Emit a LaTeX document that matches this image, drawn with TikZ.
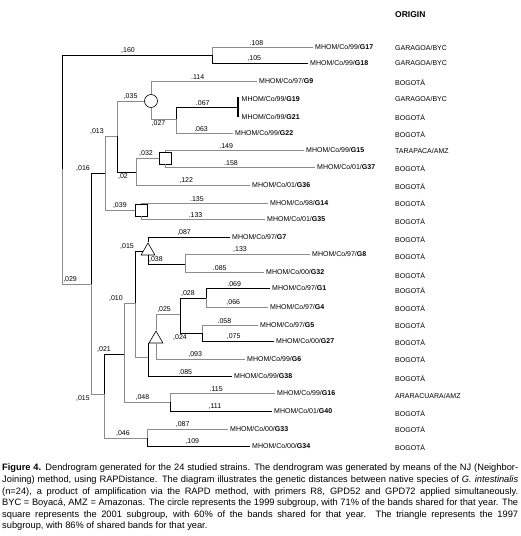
\documentclass[tikz,border=0pt]{standalone}
\usepackage{fontspec}
\setmainfont{Liberation Sans}
\usetikzlibrary{shapes.geometric}

\begin{document}
\begin{tikzpicture}[x=1pt,y=-1pt,
  blk/.style={draw=black,line width=0.7pt},
  gry/.style={draw=black!45,line width=0.9pt},
  leaf/.style={anchor=west,inner sep=2pt,font=\fontsize{7}{8}\selectfont},
  orig/.style={anchor=west,inner sep=0pt,font=\fontsize{7}{8}\selectfont},
  dist/.style={inner sep=0.8pt,font=\fontsize{7}{7.5}\selectfont},
  circnode/.style={circle,draw,line width=0.6pt,minimum size=13pt,inner sep=0pt},
  sqnode/.style={rectangle,draw,line width=0.6pt,minimum size=12pt,inner sep=0pt},
  trinode/.style={regular polygon,regular polygon sides=3,draw,line width=0.6pt,minimum size=16pt,inner sep=0pt}]
\useasboundingbox (0,0) rectangle (520,536);

% leaves
\node[leaf] (G17) at (313,47)  {MHOM/Co/99/\textbf{G17}};
\node[leaf] (G18) at (308,63)  {MHOM/Co/99/\textbf{G18}};
\node[leaf] (G9)  at (257,81)  {MHOM/Co/97/\textbf{G9}};
\node[leaf] (G19) at (239.5,99)  {MHOM/Co/99/\textbf{G19}};
\node[leaf] (G21) at (239.5,117) {MHOM/Co/99/\textbf{G21}};
\node[leaf] (G22) at (233,133) {MHOM/Co/99/\textbf{G22}};
\node[leaf] (G15) at (304,150) {MHOM/Co/99/\textbf{G15}};
\node[leaf] (G37) at (315,167) {MHOM/Co/01/\textbf{G37}};
\node[leaf] (G36) at (250,185) {MHOM/Co/01/\textbf{G36}};
\node[leaf] (G14) at (268,203) {MHOM/Co/98/\textbf{G14}};
\node[leaf] (G35) at (265,219) {MHOM/Co/01/\textbf{G35}};
\node[leaf] (G7)  at (230,237) {MHOM/Co/97/\textbf{G7}};
\node[leaf] (G8)  at (310,254) {MHOM/Co/97/\textbf{G8}};
\node[leaf] (G32) at (264,272) {MHOM/Co/00/\textbf{G32}};
\node[leaf] (G1)  at (270,288) {MHOM/Co/97/\textbf{G1}};
\node[leaf] (G4)  at (268,307) {MHOM/Co/97/\textbf{G4}};
\node[leaf] (G5)  at (258,325) {MHOM/Co/97/\textbf{G5}};
\node[leaf] (G27) at (274,341) {MHOM/Co/00/\textbf{G27}};
\node[leaf] (G6)  at (245,359) {MHOM/Co/99/\textbf{G6}};
\node[leaf] (G38) at (232,376) {MHOM/Co/99/\textbf{G38}};
\node[leaf] (G16) at (275,393) {MHOM/Co/99/\textbf{G16}};
\node[leaf] (G40) at (272,411) {MHOM/Co/01/\textbf{G40}};
\node[leaf] (G33) at (228,429) {MHOM/Co/00/\textbf{G33}};
\node[leaf] (G34) at (250,446) {MHOM/Co/00/\textbf{G34}};

% origin column
\node[orig,font=\fontsize{8.5}{9}\selectfont\bfseries] (origin) at (395,15) {ORIGIN};
\node[orig] (oG17) at (395,48)  {GARAGOA/BYC};
\node[orig] (oG18) at (395,63)  {GARAGOA/BYC};
\node[orig] (oG9)  at (395,82)  {BOGOTÁ};
\node[orig] (oG19) at (395,99)  {GARAGOA/BYC};
\node[orig] (oG21) at (395,117) {BOGOTÁ};
\node[orig] (oG22) at (395,134) {BOGOTÁ};
\node[orig] (oG15) at (395,151) {TARAPACA/AMZ};
\node[orig] (oG37) at (395,168) {BOGOTÁ};
\node[orig] (oG36) at (395,186) {BOGOTÁ};
\node[orig] (oG14) at (395,203) {BOGOTÁ};
\node[orig] (oG35) at (395,221) {BOGOTÁ};
\node[orig] (oG7)  at (395,239) {BOGOTÁ};
\node[orig] (oG8)  at (395,256) {BOGOTÁ};
\node[orig] (oG32) at (395,275) {BOGOTÁ};
\node[orig] (oG1)  at (395,290) {BOGOTÁ};
\node[orig] (oG4)  at (395,308) {BOGOTÁ};
\node[orig] (oG5)  at (395,325) {BOGOTÁ};
\node[orig] (oG27) at (395,342) {BOGOTÁ};
\node[orig] (oG6)  at (395,359) {BOGOTÁ};
\node[orig] (oG38) at (395,378) {BOGOTÁ};
\node[orig] (oG16) at (395,396) {ARARACUARA/AMZ};
\node[orig] (oG40) at (395,413) {BOGOTÁ};
\node[orig] (oG33) at (395,429) {BOGOTÁ};
\node[orig] (oG34) at (395,447) {BOGOTÁ};

% inner nodes
\coordinate (root) at (62,169);
\coordinate (nGG) at (212,55);
\coordinate (nA) at (91,284);
\coordinate (nB) at (105,173);
\coordinate (nC) at (117,136);
\node[circnode] (circ) at (151,101) {};
\coordinate (nD) at (176,119);
\node[fill,inner sep=0pt,minimum width=1.8pt,minimum height=20pt] (bar) at (238,107) {};
\coordinate (nE) at (136,172);
\node[sqnode] (sqA) at (165,158) {};
\node[sqnode] (sqB) at (141,210) {};
\coordinate (nF) at (104,394);
\coordinate (nG) at (124,354);
\coordinate (nJ) at (135,303);
\node[trinode] (triA) at (148,251) {};
\coordinate (nK) at (185,264);
\node[trinode] (triB) at (156,339) {};
\coordinate (nP) at (149,357);
\coordinate (nL) at (180,314);
\coordinate (nM) at (206,298);
\coordinate (nN) at (202,333);
\coordinate (nH) at (170,402);
\coordinate (nI) at (147,438);

% branches
\draw[blk] (root) |- node[dist,pos=0.72,above] {,160} (nGG);
\draw[gry] (root) |- node[dist,pos=0.5,above right] {,029} (nA);
\draw[gry] (nGG) |- node[dist,pos=0.72,above] {.108} (G17.west);
\draw[blk] (nGG) |- node[dist,pos=0.72,above] {,105} (G18.west);
\draw[blk] (nA) |- node[dist,pos=0.5,above left] {,016} (nB);
\draw[gry] (nA) |- node[dist,pos=0.5,below left] {,015} (nF);
\draw[gry] (nB) |- node[dist,pos=0.5,above left] {,013} (nC);
\draw[gry] (nB) |- node[dist,pos=0.75,above] {,039} (sqB);
\draw[gry] (nC) |- node[dist,pos=0.75,above] {,035} (circ);
\draw[blk] (nC) |- node[dist,pos=0.5,below right] {,02} (nE);
\draw[gry] (circ) |- node[dist,pos=0.72,above] {.114} (G9.west);
\draw[gry] (circ) |- node[dist,pos=0.65,below] {,027} (nD);
\draw[blk,line width=0.9pt] (nD) |- node[dist,pos=0.72,above] {.067} (bar);
\draw[gry] (nD) |- node[dist,pos=0.72,above] {.063} (G22.west);
\draw[gry] (nE) |- node[dist,pos=0.72,above] {,032} (sqA);
\draw[gry] (nE) |- node[dist,pos=0.72,above] {,122} (G36.west);
\draw[gry] (sqA) |- node[dist,pos=0.72,above] {.149} (G15.west);
\draw[gry] (sqA) |- node[dist,pos=0.72,above] {.158} (G37.west);
\draw[gry] (sqB) |- node[dist,pos=0.72,above] {.135} (G14.west);
\draw[gry] (sqB) |- node[dist,pos=0.72,above] {.133} (G35.west);
\draw[blk] (nF) |- node[dist,pos=0.5,above] {,021} (nG);
\draw[gry] (nF) |- node[dist,pos=0.72,above] {,046} (nI);
\draw[gry] (nG) |- node[dist,pos=0.5,above left] {,010} (nJ);
\draw[gry] (nG) |- node[dist,pos=0.7,above] {,048} (nH);
\draw[blk] (nJ) |- node[dist,pos=0.5,above left] {,015} (triA);
\draw[gry] (nJ) |- (nP);
\draw[blk] (triA) |- node[dist,pos=0.72,above] {,087} (G7.west);
\draw[blk] (triA) |- node[dist,pos=0.5,above right] {,038} (nK);
\draw[gry] (nK) |- node[dist,pos=0.72,above] {,133} (G8.west);
\draw[gry] (nK) |- node[dist,pos=0.72,above] {.085} (G32.west);
\draw[blk] (triB.corner 2) |- node[dist,pos=0.72,above] {.085} (G38.west);
\draw[gry] (triB) |- node[dist,pos=0.5,above right] {,025} (nL);
\draw[gry] (triB) |- node[dist,pos=0.72,above] {,093} (G6.west);
\draw[blk] (nL) |- node[dist,pos=0.5,above right] {,028} (nM);
\draw[blk] (nL) |- node[dist,pos=0.5,below] {,024} (nN);
\draw[blk] (nM) |- node[dist,pos=0.72,above] {.069} (G1.west);
\draw[gry] (nM) |- node[dist,pos=0.72,above] {,066} (G4.west);
\draw[gry] (nN) |- node[dist,pos=0.7,above] {.058} (G5.west);
\draw[blk] (nN) |- node[dist,pos=0.72,above] {,075} (G27.west);
\draw[gry] (nH) |- node[dist,pos=0.72,above] {.115} (G16.west);
\draw[blk] (nH) |- node[dist,pos=0.72,above] {,111} (G40.west);
\draw[gry] (nI) |- node[dist,pos=0.72,above] {,087} (G33.west);
\draw[blk] (nI) |- node[dist,pos=0.72,above] {,109} (G34.west);

% caption
\node[anchor=north west,inner sep=0pt,text width=516pt,align=justify,
      font=\fontsize{9.3}{11.6}\selectfont] (caption) at (2,464)
  {\textbf{Figure 4.} Dendrogram generated for the 24 studied strains. The dendrogram was generated by means of the NJ (Neighbor-\linebreak Joining) method, using RAPDistance. The diagram illustrates the genetic distances between native species of \textit{G. intestinalis}\linebreak (n=24), a product of amplification via the RAPD method, with primers R8, GPD52 and GPD72 applied simultaneously.\linebreak BYC = Boyacá, AMZ = Amazonas. The circle represents the 1999 subgroup, with 71\% of the bands shared for that year. The\linebreak square represents the 2001 subgroup, with 60\% of the bands shared for that year. The triangle represents the 1997\linebreak subgroup, with 86\% of shared bands for that year.};
\end{tikzpicture}
\end{document}
